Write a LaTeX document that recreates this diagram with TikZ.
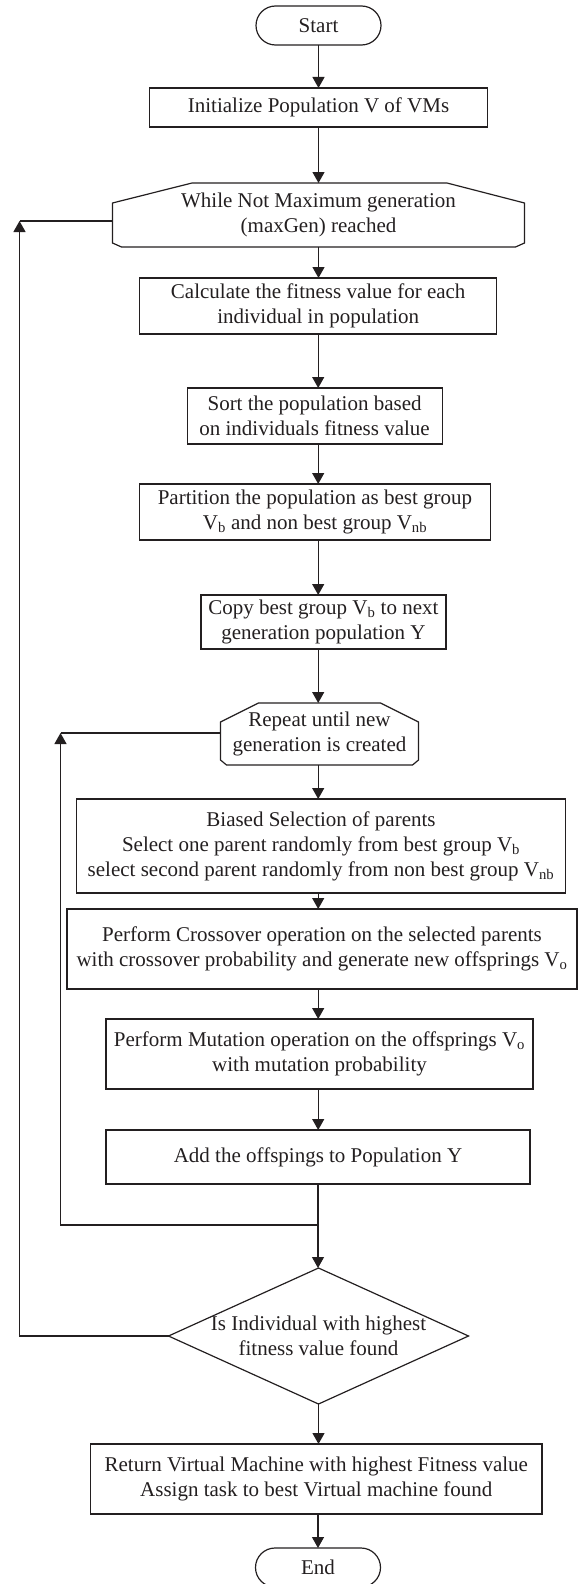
\documentclass[tikz,border=0pt]{standalone}
\usepackage{fontspec}
\setmainfont{Liberation Serif}
\usetikzlibrary{arrows.meta}
\definecolor{ink}{HTML}{231F20}
\begin{document}
\begin{tikzpicture}[x=1pt,y=-1pt,
  every node/.style={inner sep=0pt, outer sep=0pt, align=center, text=ink,
     font=\fontsize{21}{25}\selectfont},
  boxnode/.style={draw=ink, line width=1.2pt, rectangle},
  roundnode/.style={draw=ink, line width=1.2pt, rectangle, rounded corners=19.5pt},
  plainnode/.style={draw=none, rectangle},
  conn/.style={draw=ink, line width=1.2pt},
  arr/.style={conn, -{Triangle[length=11pt,width=12pt]}}]
\useasboundingbox (0,0) rectangle (579,1584);

\node[roundnode, minimum width=125pt, minimum height=39pt] (start) at (318.5,25.5) {Start};
\node[boxnode, minimum width=338pt, minimum height=39pt] (init) at (318.5,107.5) {Initialize Population V of VMs};
\node[plainnode, minimum width=412pt, minimum height=64pt] (while) at (318.5,215) {While Not Maximum generation\\(maxGen) reached};
\draw[conn] ([xshift=-126.5pt]while.north) -- ([xshift=128.5pt]while.north)
  -- ([yshift=12pt]while.east) -- ([yshift=-28pt]while.east) -- ([xshift=-9pt]while.south east)
  -- ([xshift=9pt]while.south west) -- ([yshift=-28pt]while.west) -- ([yshift=12pt]while.west) -- cycle;
\node[boxnode, minimum width=357pt, minimum height=56pt] (calc) at (318.2,306) {Calculate the fitness value for each\\individual in population};
\node[boxnode, minimum width=255pt, minimum height=56pt] (sort) at (314.6,416) {Sort the population based\\on individuals fitness value};
\node[boxnode, minimum width=351pt, minimum height=56pt] (part) at (315,512) {Partition the population as best group\\V\textsubscript{b} and non best group V\textsubscript{nb}};
\node[boxnode, minimum width=245pt, minimum height=54pt] (copy) at (323.4,622) {Copy best group V\textsubscript{b} to next\\generation population Y};
\node[plainnode, minimum width=198pt, minimum height=62pt] (rep) at (319.5,734) {Repeat until new\\generation is created};
\draw[conn] ([xshift=-61pt]rep.north) -- ([xshift=61pt]rep.north)
  -- ([yshift=12pt]rep.east) -- ([yshift=-26pt]rep.east) -- ([xshift=-6pt]rep.south east)
  -- ([xshift=6pt]rep.south west) -- ([yshift=-26pt]rep.west) -- ([yshift=12pt]rep.west) -- cycle;
\node[boxnode, minimum width=489pt, minimum height=94pt] (bias) at (321,846) {Biased Selection of parents\\Select one parent randomly from best group V\textsubscript{b}\\select second parent randomly from non best group V\textsubscript{nb}};
\node[boxnode, minimum width=510pt, minimum height=80pt] (cross) at (322,949) {Perform Crossover operation on the selected parents\\with crossover probability and generate new offsprings V\textsubscript{o}};
\node[boxnode, minimum width=427pt, minimum height=70pt] (mut) at (319.5,1054) {Perform Mutation operation on the offsprings V\textsubscript{o}\\with mutation probability};
\node[boxnode, minimum width=424pt, minimum height=54pt] (add) at (318,1157) {Add the offspings to Population Y};
\node[plainnode, minimum width=300pt, minimum height=136pt] (dec) at (318.5,1336) {Is Individual with highest\\fitness value found};
\draw[conn] (dec.north) -- (dec.east) -- (dec.south) -- (dec.west) -- cycle;
\node[boxnode, minimum width=451.5pt, minimum height=70pt] (ret) at (316.3,1479) {Return Virtual Machine with highest Fitness value\\Assign task to best Virtual machine found};
\node[roundnode, minimum width=125pt, minimum height=39pt] (end) at (318,1567.5) {End};

\coordinate (j) at (318,1225);
\coordinate (il) at (60.5,1225);
\coordinate (iu) at (60.5,733);
\coordinate (ol) at (19.5,1336);
\coordinate (ou) at (19.5,221);

\draw[arr] (start.south) -- (start.south |- init.north);
\draw[arr] (init.south) -- (init.south |- while.north);
\draw[arr] (while.south) -- (while.south |- calc.north);
\draw[arr] (calc.south) -- (calc.south |- sort.north);
\draw[arr] (calc.south |- sort.south) -- (calc.south |- part.north);
\draw[arr] (calc.south |- part.south) -- (calc.south |- copy.north);
\draw[arr] (calc.south |- copy.south) -- (calc.south |- rep.north);
\draw[arr] (calc.south |- rep.south) -- (calc.south |- bias.north);
\draw[arr] (calc.south |- bias.south) -- (calc.south |- cross.north);
\draw[arr] (calc.south |- cross.south) -- (calc.south |- mut.north);
\draw[arr] (calc.south |- mut.south) -- (calc.south |- add.north);
\draw[conn] (add.south) -- (j);
\draw[arr] (j) -- (j |- dec.north);
\draw[arr] (j) -- (il) -- (iu);
\draw[conn] (iu) -- (iu -| rep.west);
\draw[arr] (dec.west) -- (ol) -- (ou);
\draw[conn] (ou) -- (ou -| while.west);
\draw[arr] (dec.south) -- (dec.south |- ret.north);
\draw[arr] (ret.south -| end.north) -- (end.north);
\end{tikzpicture}
\end{document}
